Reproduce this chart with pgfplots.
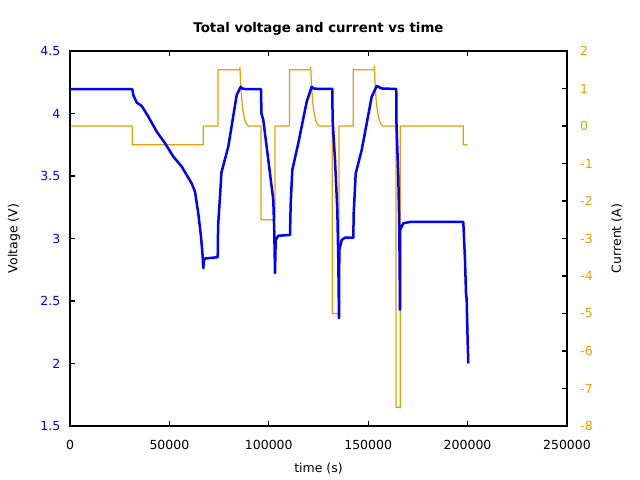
\documentclass[border=0pt]{standalone}
\usepackage{fontspec}
\setmainfont{DejaVu Sans}
\usepackage{pgfplots}
\pgfplotsset{compat=1.18}
\definecolor{curr}{RGB}{232,160,0}
\begin{document}
\begin{tikzpicture}
\useasboundingbox (0,0) rectangle (460.8pt,345.6pt);
\pgfplotsset{
  every axis/.append style={
    at={(50.4pt,38.9pt)}, anchor=south west,
    scale only axis, width=357.84pt, height=270pt,
    xmin=0, xmax=250000,
    tick align=inside, major tick length=3.5pt,
    axis line style={line width=0.8pt, black},
    every tick/.style={black, line width=0.8pt},
    tick label style={font=\fontsize{9}{10.8}\selectfont},
    label style={font=\fontsize{9}{10.8}\selectfont},
  }
}
% current axis (right)
\begin{axis}[
  axis x line=none, axis y line*=right,
  ymin=-8, ymax=2,
  ytick={-8,-7,-6,-5,-4,-3,-2,-1,0,1,2},
  yticklabels={-8,-7,-6,-5,-4,-3,-2,-1,0,1,2},
  yticklabel style={text=curr, xshift=6pt},
  ylabel={Current (A)},
  ylabel style={at={(axis description cs:1.1006,0.5)}, anchor=center, rotate=0},
]
\addplot[curr, line width=0.9pt] coordinates {
(0,0) (31300,0) (31300,-0.5) (67050,-0.5) (67050,0) (74500,0) (74500,1.5)
(85400,1.5) (85500,1.58) (85700,1.3) (86000,1.0) (86400,0.7) (86900,0.45) (87400,0.3) (88000,0.15) (88800,0.05) (89800,0)
(96080,0) (96080,-2.5) (103120,-2.5) (103120,0) (110400,0) (110400,1.5)
(121000,1.5) (121100,1.58) (121300,1.3) (121600,1.0) (122000,0.7) (122500,0.45) (123000,0.3) (123600,0.15) (124400,0.05) (125400,0)
(131940,0) (131940,-5) (135310,-5) (135310,0) (142510,0) (142510,1.5)
(153000,1.5) (153100,1.6) (153300,1.3) (153600,1.0) (154000,0.7) (154500,0.45) (155000,0.3) (155600,0.15) (156400,0.05) (157400,0)
(163990,0) (163990,-7.5) (166150,-7.5) (166150,0) (197840,0) (197840,-0.5) (200050,-0.5)
};
\end{axis}
% voltage axis (left)
\begin{axis}[
  ymin=1.5, ymax=4.5,
  ytick={1.5,2,2.5,3,3.5,4,4.5},
  yticklabels={1.5,2,2.5,3,3.5,4,4.5},
  ytick pos=left, xtick pos=both,
  yticklabel style={text=blue, xshift=-3.5pt},
  xtick={0,50000,100000,150000,200000,250000},
  xticklabels={0,50000,100000,150000,200000,250000},
  xticklabel style={yshift=-6.4pt},
  scaled x ticks=false,
  xlabel={time (s)},
  xlabel style={at={(axis description cs:0.5,-0.1148)}, anchor=center},
  ylabel={Voltage (V)},
  ylabel style={at={(axis description cs:-0.1126,0.5)}, anchor=center},
  title={Total voltage and current vs time},
  title style={at={(axis description cs:0.5,1.037)}, anchor=center, font=\bfseries\fontsize{9.6}{11.5}\selectfont},
]
\addplot[blue, line width=1.8pt, line join=round] coordinates {
(0,4.194) (31340,4.194) (31840,4.148) (33550,4.087) (36070,4.06) (39390,3.975) (43610,3.855)
(47790,3.762) (51960,3.655) (56190,3.575) (58700,3.508) (61220,3.44) (62880,3.374) (64540,3.2)
(65900,3.014) (66750,2.854) (67050,2.762) (67300,2.82) (67910,2.84) (74300,2.85)
(74500,3.1) (75300,3.3) (76200,3.53) (79630,3.735) (83850,4.148) (85870,4.214) (86500,4.2) (88880,4.194)
(96080,4.194) (96300,4.0) (97230,3.948) (99750,3.628) (102260,3.308) (102770,3.044) (103120,2.722)
(103470,2.988) (104780,3.022) (110660,3.028) (111020,3.28) (111820,3.548) (114840,3.762) (119060,4.094)
(121580,4.214) (122500,4.2) (125760,4.196) (131940,4.196) (132100,3.948) (133300,3.628) (134460,3.228)
(134960,2.828) (135310,2.362) (135470,2.908) (136670,2.988) (138330,3.006) (142510,3.006)
(142700,3.2) (143710,3.52) (146730,3.708) (151760,4.134) (154280,4.22) (156790,4.2) (164100,4.196)
(164200,3.934) (165140,3.494) (165640,3.094) (166000,2.428) (166050,3.068) (167660,3.122) (171030,3.132)
(197840,3.132) (198690,2.828) (199200,2.562) (199550,2.508) (200050,2.162) (200350,2.0)
};
\end{axis}
\end{tikzpicture}
\end{document}
